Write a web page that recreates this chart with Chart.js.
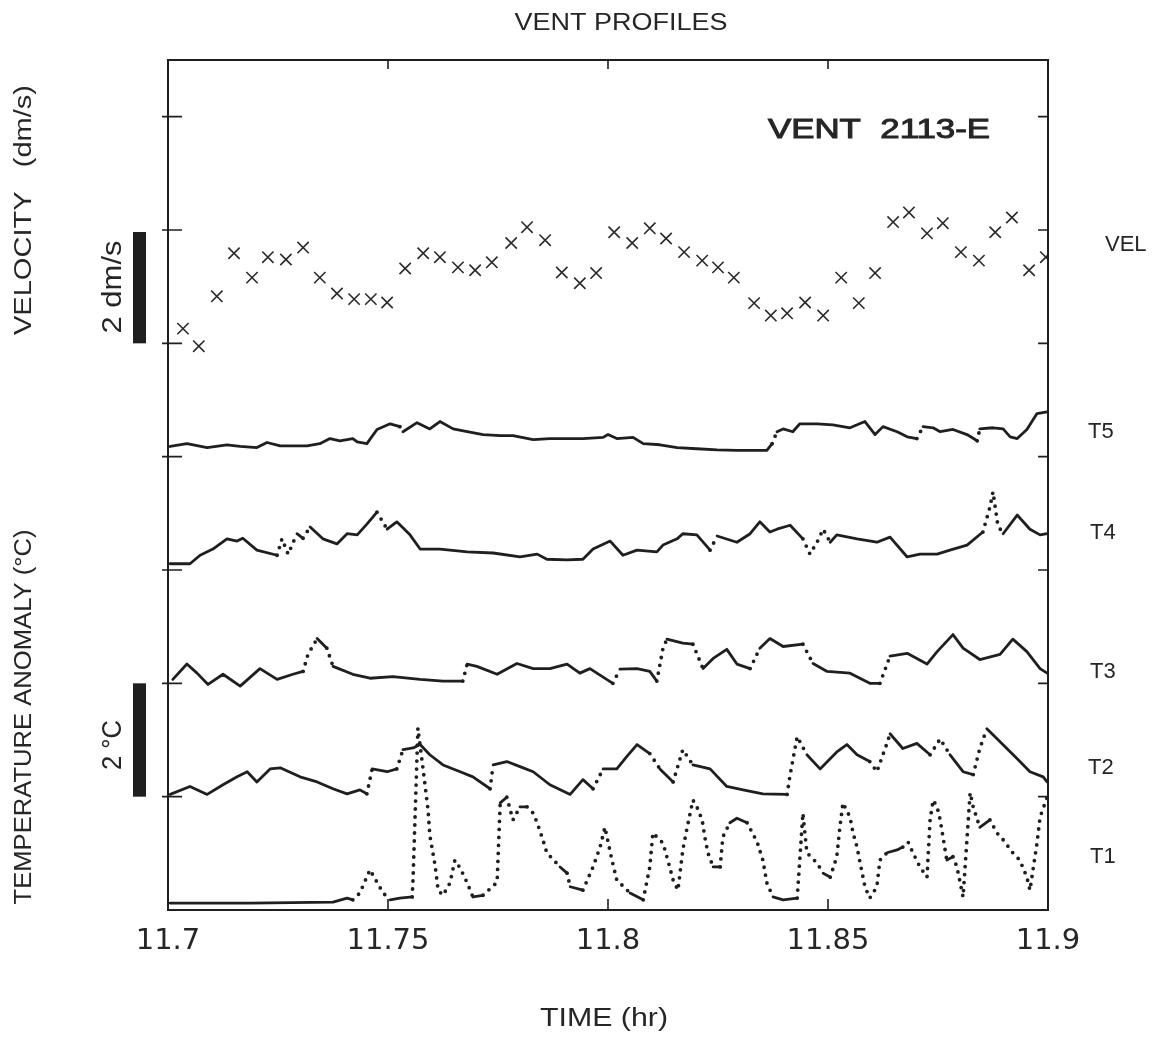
<!DOCTYPE html>
<html>
<head>
<meta charset="utf-8">
<script src="https://cdn.jsdelivr.net/npm/chart.js@4.4.1/dist/chart.umd.min.js"></script>
<style>
  body { margin: 0; background: #fff; }
  canvas { display: block; }
</style>
</head>
<body>
<canvas id="vent" width="1153" height="1042"></canvas>
<script>
// ---- data (time in hr, velocity in dm/s, temperature anomaly in degC) ----
const xTickValues = [11.7, 11.75, 11.8, 11.85, 11.9];
const yTickValues = [0, 1, 2, 3, 4, 5, 6];

const velTime = [11.7034,11.7070,11.7111,11.7150,11.7191,11.7227,11.7268,11.7307,11.7345,11.7384,
  11.7423,11.7461,11.7498,11.7539,11.7580,11.7618,11.7659,11.7698,11.7736,
  11.7780,11.7816,11.7857,11.7895,11.7936,11.7973,11.8014,11.8055,11.8095,11.8132,
  11.8173,11.8214,11.8250,11.8286,11.8332,11.8370,11.8407,11.8448,11.8489,11.8530,
  11.8570,11.8607,11.8648,11.8684,11.8725,11.8761,11.8802,11.8843,11.8880,11.8918,
  11.8957,11.8995];
const velValue = [0.26,-0.05,0.83,1.59,1.16,1.52,1.48,1.69,1.16,0.88,
  0.78,0.78,0.72,1.32,1.59,1.52,1.34,1.29,1.43,
  1.77,2.05,1.82,1.25,1.06,1.24,1.96,1.77,2.03,1.85,
  1.61,1.46,1.34,1.16,0.71,0.49,0.53,0.72,0.49,1.16,
  0.71,1.24,2.14,2.31,1.94,2.12,1.61,1.46,1.96,2.22,
  1.29,1.52];

const t5Time = [11.7005,11.7043,11.7089,11.7134,11.7164,11.7202,11.7225,11.7255,11.7284,11.7316,
  11.7345,11.7368,11.7391,11.7420,11.7430,11.7452,11.7475,11.7505,11.7527,11.7534,
  11.7566,11.7595,11.7618,11.7648,11.7680,11.7716,11.7755,11.7784,11.7830,11.7868,
  11.7943,11.7989,11.8000,11.8020,11.8057,11.8080,11.8118,11.8157,11.8202,11.8248,
  11.8293,11.8361,11.8373,11.8384,11.8398,11.8420,11.8436,11.8475,11.8511,11.8550,
  11.8584,11.8607,11.8625,11.8657,11.8680,11.8702,11.8716,11.8739,11.8755,11.8784,
  11.8816,11.8839,11.8845,11.8875,11.8898,11.8914,11.8930,11.8952,11.8975,11.8998];
const t5Temp = [0.18,0.23,0.16,0.21,0.18,0.16,0.25,0.19,0.19,0.19,
  0.23,0.32,0.28,0.32,0.26,0.23,0.48,0.58,0.53,0.44,
  0.60,0.49,0.62,0.49,0.44,0.39,0.37,0.37,0.30,0.32,
  0.32,0.34,0.39,0.32,0.34,0.23,0.21,0.16,0.14,0.12,
  0.11,0.11,0.23,0.44,0.49,0.44,0.58,0.58,0.56,0.51,
  0.62,0.39,0.53,0.44,0.35,0.32,0.53,0.51,0.44,0.48,
  0.39,0.28,0.49,0.51,0.49,0.35,0.32,0.48,0.76,0.79];

const t4Time = [11.7005,11.7050,11.7073,11.7102,11.7134,11.7157,11.7170,11.7202,11.7248,11.7259,
  11.7273,11.7293,11.7307,11.7323,11.7352,11.7384,11.7407,11.7430,11.7452,11.7475,
  11.7498,11.7520,11.7550,11.7573,11.7618,11.7680,11.7739,11.7800,11.7839,11.7861,
  11.7907,11.7943,11.7966,11.8005,11.8034,11.8066,11.8111,11.8125,11.8157,11.8170,
  11.8202,11.8232,11.8248,11.8293,11.8323,11.8345,11.8368,11.8384,11.8414,11.8443,
  11.8459,11.8475,11.8489,11.8505,11.8520,11.8566,11.8611,11.8641,11.8680,11.8709,
  11.8748,11.8777,11.8816,11.8852,11.8868,11.8875,11.8886,11.8898,11.8930,11.8959,
  11.8982,11.8998];
const t4Temp = [0.11,0.11,0.26,0.37,0.55,0.51,0.56,0.35,0.26,0.55,
  0.28,0.64,0.56,0.76,0.55,0.46,0.64,0.62,0.81,1.02,
  0.72,0.85,0.62,0.37,0.37,0.32,0.30,0.23,0.28,0.19,
  0.18,0.19,0.37,0.51,0.26,0.35,0.32,0.44,0.55,0.64,
  0.62,0.35,0.60,0.49,0.64,0.85,0.67,0.72,0.79,0.55,
  0.28,0.49,0.72,0.49,0.62,0.55,0.49,0.58,0.23,0.28,
  0.28,0.35,0.44,0.67,1.11,1.38,0.79,0.64,0.97,0.72,
  0.62,0.64];

const t3Time = [11.7011,11.7043,11.7066,11.7091,11.7125,11.7164,11.7209,11.7248,11.7284,11.7307,
  11.7318,11.7339,11.7361,11.7375,11.7420,11.7459,11.7511,11.7573,11.7625,11.7670,
  11.7680,11.7702,11.7748,11.7793,11.7830,11.7868,11.7907,11.7936,11.7959,11.8011,
  11.8027,11.8066,11.8095,11.8111,11.8125,11.8134,11.8170,11.8193,11.8216,11.8239,
  11.8270,11.8293,11.8323,11.8345,11.8368,11.8398,11.8443,11.8466,11.8498,11.8550,
  11.8595,11.8618,11.8641,11.8680,11.8725,11.8748,11.8784,11.8807,11.8845,11.8891,
  11.8920,11.8952,11.8982,11.8998];
const t3Temp = [0.07,0.34,0.18,-0.02,0.16,-0.05,0.26,0.07,0.16,0.21,
  0.51,0.79,0.62,0.30,0.16,0.09,0.12,0.07,0.04,0.04,
  0.34,0.30,0.16,0.35,0.26,0.26,0.34,0.18,0.26,0.00,
  0.25,0.26,0.21,0.04,0.62,0.78,0.71,0.69,0.26,0.44,
  0.60,0.34,0.26,0.62,0.79,0.65,0.69,0.35,0.21,0.18,
  0.00,0.00,0.48,0.53,0.34,0.56,0.86,0.62,0.42,0.51,
  0.78,0.56,0.26,0.18];

const t2Time = [11.7005,11.7050,11.7089,11.7125,11.7157,11.7180,11.7202,11.7232,11.7255,11.7300,
  11.7339,11.7375,11.7407,11.7436,11.7452,11.7464,11.7498,11.7520,11.7534,11.7557,
  11.7573,11.7595,11.7625,11.7664,11.7693,11.7732,11.7739,11.7770,11.7800,11.7830,
  11.7868,11.7914,11.7943,11.7966,11.7989,11.8020,11.8043,11.8066,11.8095,11.8118,
  11.8148,11.8170,11.8193,11.8232,11.8270,11.8307,11.8352,11.8407,11.8414,11.8430,
  11.8452,11.8482,11.8520,11.8543,11.8566,11.8595,11.8611,11.8634,11.8641,11.8670,
  11.8702,11.8732,11.8755,11.8777,11.8807,11.8830,11.8845,11.8861,11.8891,11.8930,
  11.8959,11.8989,11.8998];
const t2Temp = [0.04,0.18,0.04,0.21,0.35,0.44,0.26,0.49,0.51,0.35,
  0.26,0.14,0.05,0.12,0.05,0.49,0.44,0.49,0.83,0.86,
  0.92,0.74,0.56,0.44,0.35,0.14,0.56,0.62,0.53,0.44,
  0.21,0.04,0.30,0.14,0.49,0.49,0.71,0.92,0.76,0.49,
  0.26,0.83,0.56,0.49,0.18,0.12,0.05,0.04,0.39,1.06,
  0.74,0.49,0.79,0.92,0.74,0.62,0.44,0.94,1.11,0.85,
  0.94,0.74,1.02,0.74,0.44,0.39,0.85,1.20,0.97,0.67,
  0.44,0.35,0.26];

const t1Time = [11.7005,11.7186,11.7375,11.7407,11.7420,11.7436,11.7459,11.7475,11.7489,11.7505,
  11.7527,11.7555,11.7557,11.7568,11.7580,11.7591,11.7595,11.7607,11.7614,11.7625,
  11.7641,11.7652,11.7664,11.7680,11.7693,11.7716,11.7748,11.7755,11.7770,11.7784,
  11.7800,11.7816,11.7830,11.7839,11.7852,11.7861,11.7891,11.7907,11.7914,11.7943,
  11.7966,11.7982,11.7993,11.8009,11.8020,11.8050,11.8080,11.8095,11.8102,11.8125,
  11.8136,11.8148,11.8159,11.8170,11.8180,11.8193,11.8202,11.8214,11.8220,11.8227,
  11.8239,11.8255,11.8261,11.8277,11.8293,11.8316,11.8339,11.8352,11.8361,11.8375,
  11.8398,11.8430,11.8443,11.8452,11.8475,11.8489,11.8505,11.8520,11.8527,11.8534,
  11.8550,11.8557,11.8566,11.8573,11.8584,11.8595,11.8611,11.8618,11.8634,11.8657,
  11.8670,11.8682,11.8693,11.8709,11.8725,11.8732,11.8739,11.8748,11.8755,11.8770,
  11.8784,11.8793,11.8807,11.8823,11.8830,11.8845,11.8868,11.8884,11.8898,11.8920,
  11.8936,11.8952,11.8959,11.8975,11.8982,11.8998];
const t1Temp = [0.12,0.12,0.14,0.21,0.18,0.30,0.71,0.49,0.30,0.18,
  0.21,0.23,0.56,3.21,2.47,1.77,1.32,0.79,0.35,0.26,
  0.48,0.88,0.74,0.48,0.23,0.26,0.49,1.89,1.99,1.59,
  1.82,1.82,1.71,1.54,1.24,1.01,0.76,0.65,0.41,0.35,
  0.76,1.11,1.46,0.88,0.53,0.30,0.18,0.76,1.36,1.18,
  0.88,0.53,0.35,1.06,1.46,1.94,1.82,1.59,1.29,1.01,
  0.76,0.76,1.29,1.54,1.62,1.54,1.20,0.88,0.48,0.23,
  0.18,0.21,1.71,1.01,0.83,0.65,0.58,0.94,1.46,1.89,
  1.64,1.36,1.11,0.83,0.41,0.21,0.41,0.88,1.01,1.06,
  1.11,1.20,1.01,0.76,0.58,1.59,1.94,1.82,1.59,0.88,
  0.94,0.76,0.23,2.07,1.82,1.46,1.59,1.36,1.24,1.01,
  0.88,0.58,0.35,1.18,1.64,1.99];

// each trace sits on its own baseline (axis units), 2 units of data per tick step
const unitsPerTick = 2;
const ink = '#1f1f1f';

function toPoints(times, values, base) {
  return times.map((t, i) => ({ x: t, y: base + values[i] / unitsPerTick }));
}

// steep jumps were printed as separate dots, flat stretches as a solid line
function isSteep(ctx, limit) {
  const dx = Math.abs(ctx.p1.x - ctx.p0.x), dy = Math.abs(ctx.p1.y - ctx.p0.y);
  return dy > limit * dx;
}

function trace(times, values, base, limit) {
  return {
    data: toPoints(times, values, base),
    showLine: true,
    borderColor: ink,
    borderWidth: 2.8,
    borderCapStyle: 'round',
    borderJoinStyle: 'round',
    pointRadius: 0,
    tension: 0,
    segment: {
      borderDash: ctx => isSteep(ctx, limit) ? [0, 8] : undefined,
      borderWidth: ctx => isSteep(ctx, limit) ? 3.8 : undefined
    }
  };
}

function fitText(ctx, txt, x, y, w, font, align, rotate, heavy) {
  ctx.save();
  ctx.font = font;
  const m = ctx.measureText(txt).width;
  ctx.translate(x, y);
  if (rotate) ctx.rotate(-Math.PI / 2);
  ctx.scale(w / m, 1);
  ctx.textAlign = align;
  ctx.textBaseline = 'middle';
  ctx.fillText(txt, 0, 0);
  if (heavy) {
    ctx.lineWidth = heavy;
    ctx.strokeText(txt, 0, 0);
  }
  ctx.restore();
}

const decor = {
  id: 'decor',
  beforeDraw(chart) {
    const ctx = chart.ctx;
    ctx.save();
    ctx.fillStyle = '#fff';
    ctx.fillRect(0, 0, chart.width, chart.height);
    ctx.restore();
  },
  afterDraw(chart) {
    const { ctx, chartArea: a, scales: { x, y } } = chart;
    ctx.save();
    ctx.strokeStyle = ink;
    ctx.fillStyle = ink;
    ctx.lineWidth = 2;
    ctx.strokeRect(a.left, a.top, a.right - a.left, a.bottom - a.top);

    ctx.lineWidth = 1.6;
    ctx.beginPath();
    yTickValues.forEach(v => {
      const py = y.getPixelForValue(v);
      ctx.moveTo(a.left - 6, py); ctx.lineTo(a.left + 14, py);
      ctx.moveTo(a.right - 10, py); ctx.lineTo(a.right, py);
    });
    xTickValues.slice(1, -1).forEach(v => {
      const px = x.getPixelForValue(v);
      ctx.moveTo(px, a.bottom); ctx.lineTo(px, a.bottom - 11);
      ctx.moveTo(px, a.top); ctx.lineTo(px, a.top + 9);
    });
    ctx.stroke();

    // scale bars: one tick step = 2 dm/s and 2 degC
    const barL = a.left - 35, barW = 13;
    const v0 = y.getPixelForValue(4), v1 = y.getPixelForValue(5);
    ctx.fillRect(barL, v1 + 2, barW, v0 - v1 - 2);
    const c0 = y.getPixelForValue(0), c1 = y.getPixelForValue(1);
    ctx.fillRect(barL, c1, barW, c0 - c1);

    ctx.fillStyle = '#262626';
    ctx.strokeStyle = '#262626';
    const sans = "'Liberation Sans', Arial, sans-serif";
    fitText(ctx, '2 dm/s', 113, 287, 93, '28px ' + sans, 'center', true);
    fitText(ctx, '2 °C', 113, 745, 50, '28px ' + sans, 'center', true);
    fitText(ctx, 'VELOCITY   (dm/s)', 25, 210, 250, '23px ' + sans, 'center', true);
    fitText(ctx, 'TEMPERATURE ANOMALY (°C)', 25, 717, 375, '23px ' + sans, 'center', true);

    fitText(ctx, 'VENT PROFILES', 621, 24, 213, '23px ' + sans, 'center', false);
    fitText(ctx, 'TIME (hr)', 604, 1019, 128, '25px ' + sans, 'center', false);
    fitText(ctx, 'VENT  2113-E', 768, 131, 222, '27px ' + sans, 'left', false, 1);

    const rightLabels = [['VEL', 1105, 245], ['T5', 1088, 432], ['T4', 1090, 533],
      ['T3', 1090, 672], ['T2', 1088, 768], ['T1', 1090, 857]];
    ctx.font = '22px ' + sans;
    ctx.textAlign = 'left';
    ctx.textBaseline = 'middle';
    rightLabels.forEach(([txt, px, py]) => ctx.fillText(txt, px, py));
    ctx.restore();
  }
};

new Chart(document.getElementById('vent'), {
  type: 'scatter',
  data: {
    datasets: [
      {
        data: toPoints(velTime, velValue, 4),
        showLine: false,
        pointStyle: 'crossRot',
        pointRadius: 8,
        borderColor: '#2a2a2a',
        borderWidth: 1.6
      },
      trace(t5Time, t5Temp, 3, 1.6),
      trace(t4Time, t4Temp, 2, 1.6),
      trace(t3Time, t3Temp, 1, 1.6),
      trace(t2Time, t2Temp, 0, 1.4),
      trace(t1Time, t1Temp, -1, 0.9)
    ]
  },
  options: {
    responsive: false,
    animation: false,
    layout: { padding: { top: 60, right: 105, left: 0, bottom: 0 } },
    plugins: { legend: { display: false }, tooltip: { enabled: false } },
    scales: {
      x: {
        type: 'linear',
        min: 11.7,
        max: 11.9,
        afterFit: s => { s.height = 132; },
        afterBuildTicks: s => { s.ticks = xTickValues.map(v => ({ value: v })); },
        grid: { display: false, drawTicks: false },
        border: { display: false },
        ticks: {
          autoSkip: false,
          maxRotation: 0,
          padding: 14,
          color: '#262626',
          font: { family: "'DejaVu Sans', sans-serif", size: 29 },
          callback: v => String(+v.toFixed(2))
        }
      },
      y: {
        min: -1,
        max: 6.5,
        afterFit: s => { s.width = 168; },
        grid: { display: false, drawTicks: false },
        border: { display: false },
        ticks: { display: false }
      }
    }
  },
  plugins: [decor]
});
</script>
</body>
</html>
